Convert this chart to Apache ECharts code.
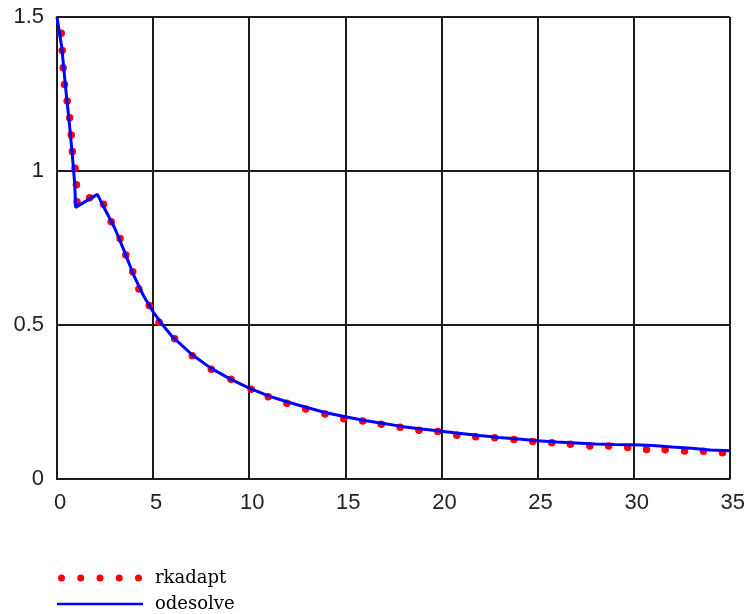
<!DOCTYPE html>
<html>
<head>
<meta charset="utf-8">
<script src="https://cdn.jsdelivr.net/npm/echarts@6/dist/echarts.min.js"></script>
<style>
  html, body { margin: 0; padding: 0; background: #fff; }
  #chart { width: 748px; height: 614px; }
</style>
</head>
<body>
<div id="chart"></div>
<script>
// Adaptive Runge-Kutta solution (dotted trace)
const rkX = [0.22, 0.27, 0.32, 0.39, 0.53, 0.66, 0.74, 0.80, 0.94, 1.01, 1.04, 1.70, 2.42, 2.82, 3.28,
  3.58, 3.94, 4.26, 4.80, 5.31, 6.12, 7.04, 8.03, 9.05, 10.10, 10.99, 11.96, 12.94, 13.94, 14.92,
  15.90, 16.87, 17.85, 18.83, 19.81, 20.80, 21.78, 22.77, 23.77, 24.75, 25.74, 26.71, 27.72, 28.70,
  29.69, 30.67, 31.64, 32.65, 33.63, 34.62];
const rkY = [1.447, 1.391, 1.335, 1.281, 1.227, 1.173, 1.117, 1.063, 1.009, 0.955, 0.900, 0.913, 0.892,
  0.835, 0.781, 0.727, 0.673, 0.617, 0.563, 0.509, 0.455, 0.400, 0.356, 0.324, 0.291, 0.267, 0.246,
  0.227, 0.211, 0.196, 0.188, 0.178, 0.168, 0.158, 0.154, 0.142, 0.137, 0.134, 0.128, 0.122, 0.118,
  0.113, 0.107, 0.107, 0.102, 0.096, 0.095, 0.091, 0.090, 0.085];

// odesolve solution (solid trace)
const odeX = [0, 0.25, 0.45, 0.65, 0.8, 0.92, 0.97, 2.1, 2.5, 3.0, 3.5, 4.0, 4.5, 5.0, 5.5, 6, 7, 8, 9,
  10, 11, 12, 13, 14, 15, 16, 17, 18, 19, 20, 21, 22, 23, 24, 25, 26, 27, 28, 29, 30, 31, 32, 33, 34, 35];
const odeY = [1.50, 1.40, 1.27, 1.15, 1.05, 0.96, 0.882, 0.924, 0.875, 0.815, 0.74, 0.66, 0.595, 0.543,
  0.50, 0.462, 0.405, 0.36, 0.325, 0.295, 0.27, 0.25, 0.232, 0.215, 0.202, 0.19, 0.18, 0.17, 0.162,
  0.155, 0.148, 0.141, 0.135, 0.13, 0.124, 0.12, 0.117, 0.114, 0.112, 0.111, 0.109, 0.104, 0.1,
  0.094, 0.092];

const seriesNames = ['rkadapt', 'odesolve'];
const xRange = { min: 0, max: 35, step: 5 };
const yRange = { min: 0, max: 1.5, step: 0.5 };

const zip = (xs, ys) => xs.map((x, i) => [x, ys[i]]);

// five dots in a row for the dotted-trace legend key
function dotsIcon(n, r, gap) {
  let p = '';
  for (let i = 0; i < n; i++) {
    const cx = r + i * gap;
    p += 'M' + (cx - r) + ',' + r + ' a' + r + ',' + r + ' 0 1,0 ' + (2 * r) + ',0 a' + r + ',' + r +
      ' 0 1,0 ' + (-2 * r) + ',0 Z ';
  }
  return 'path://' + p;
}

// plain bar for the solid-trace legend key (aspect kept, so it stays thin)
const lineIcon = 'path://M0,0 H86 V2.5 H0 Z';

const gridColor = '#1c1c1c';
const tickFont = { fontFamily: 'Liberation Sans', fontSize: 22, color: '#222' };

const chart = echarts.init(document.getElementById('chart'), null, { renderer: 'canvas' });
chart.setOption({
  animation: false,
  backgroundColor: '#fff',
  grid: { left: 57, right: 15, top: 17, bottom: 135, containLabel: false },
  xAxis: {
    type: 'value', min: xRange.min, max: xRange.max, interval: xRange.step,
    axisLine: { show: true, onZero: false, lineStyle: { color: gridColor, width: 2 } },
    axisTick: { show: false },
    splitLine: { show: true, showMinLine: true, showMaxLine: true, lineStyle: { color: gridColor, width: 2 } },
    axisLabel: Object.assign({ margin: 13, padding: [0, 0, 0, 6] }, tickFont)
  },
  yAxis: {
    type: 'value', min: yRange.min, max: yRange.max, interval: yRange.step,
    axisLine: { show: true, onZero: false, lineStyle: { color: gridColor, width: 2 } },
    axisTick: { show: false },
    splitLine: { show: true, showMinLine: true, showMaxLine: true, lineStyle: { color: gridColor, width: 2 } },
    axisLabel: Object.assign({ margin: 13 }, tickFont)
  },
  legend: {
    orient: 'vertical', left: 57, top: 569, padding: 0, itemGap: 8,
    itemWidth: 86, itemHeight: 7, selectedMode: false, symbolKeepAspect: true,
    textStyle: { fontFamily: 'DejaVu Serif', fontSize: 18, color: '#000', padding: [0, 0, 0, 7] },
    data: [
      { name: seriesNames[0], icon: dotsIcon(5, 3.5, 19.25), itemStyle: { color: '#ff0000', opacity: 1 } },
      { name: seriesNames[1], icon: lineIcon, itemStyle: { color: '#0000ff', opacity: 1 } }
    ]
  },
  series: [
    {
      name: seriesNames[0], type: 'scatter', data: zip(rkX, rkY),
      symbol: 'circle', symbolSize: 7.5, itemStyle: { color: '#ff0000', opacity: 1 }, z: 2
    },
    {
      name: seriesNames[1], type: 'line', data: zip(odeX, odeY),
      symbol: 'none', lineStyle: { color: '#0000ff', width: 3 }, itemStyle: { color: '#0000ff' }, z: 3
    }
  ]
});
</script>
</body>
</html>
